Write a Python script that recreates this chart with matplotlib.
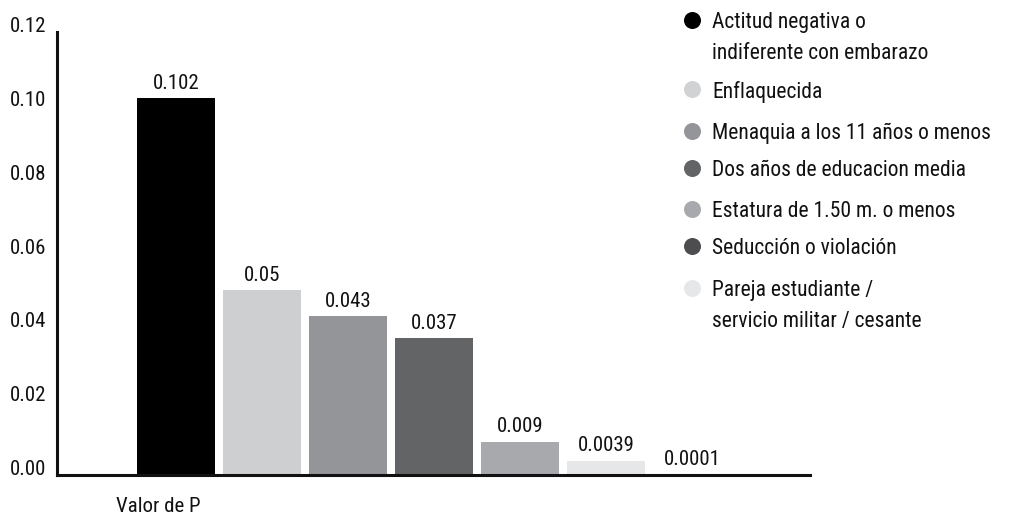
import matplotlib
matplotlib.use("Agg")
import matplotlib.pyplot as plt
from matplotlib import font_manager as fm

installed = {f.name for f in fm.fontManager.ttflist}
preferred = ["Roboto Condensed", "Archivo Narrow", "PT Sans Narrow", "IBM Plex Sans Condensed",
             "Liberation Sans Narrow", "Open Sans Condensed", "Roboto"]
main_font = next((f for f in preferred if f in installed), "DejaVu Sans")
plt.rcParams['font.family'] = [main_font, 'DejaVu Sans']

category = "Valor de P"
values = [0.102, 0.05, 0.043, 0.037, 0.009, 0.0039, 0.0001]
value_labels = ["0.102", "0.05", "0.043", "0.037", "0.009", "0.0039", "0.0001"]
bar_colors = ["#000000", "#cecfd1", "#939598", "#636466", "#a7a9ac", "#e6e7e8", "#4d4d4f"]
legend_labels = ["Actitud negativa o\nindiferente con embarazo", "Enflaquecida",
                 "Menaquia a los 11 años o menos", "Dos años de educacion media",
                 "Estatura de 1.50 m. o menos", "Seducción o violación",
                 "Pareja estudiante /\nservicio militar / cesante"]
legend_colors = ["#000000", "#d1d2d4", "#939598", "#636466", "#a7a9ac", "#4d4d4f", "#e6e7e8"]
yticks = [0.00, 0.02, 0.04, 0.06, 0.08, 0.10, 0.12]

W, H = 1010, 517
fig = plt.figure(figsize=(W / 100, H / 100), dpi=100)
ax = fig.add_axes([57 / W, (H - 475) / H, (810 - 57) / W, (475 - 32) / H])

x = list(range(len(values)))
bars = ax.bar(x, values, width=78 / 86, color=bar_colors, zorder=2)
for b, lab in zip(bars, value_labels):
    ax.annotate(lab, (b.get_x() + b.get_width() / 2, b.get_height()),
                xytext=(0, 4), textcoords="offset points", ha="center", va="bottom",
                fontsize=15, color="#111111")

ax.set_xlim(-1.384, 7.372)
ax.set_ylim(0, 0.12)
ax.set_yticks(yticks)
ax.set_yticklabels([f"{t:.2f}" for t in yticks])
for t in ax.get_yticklabels():
    t.set_verticalalignment("baseline")
ax.tick_params(axis="y", length=0, pad=8, labelsize=15, labelcolor="#111111")
ax.set_xticks([])
for s in ["top", "right"]:
    ax.spines[s].set_visible(False)
ax.spines["left"].set_linewidth(2.2)
ax.spines["bottom"].set_linewidth(2.2)
ax.spines["left"].set_color("#111111")
ax.spines["bottom"].set_color("#111111")

fig.text(158 / W, 1 - 507 / H, category, ha="center", va="center", fontsize=15, color="#111111")

# legend drawn in a pixel-coordinate overlay
lax = fig.add_axes([0, 0, 1, 1])
lax.set_xlim(0, W)
lax.set_ylim(H, 0)
lax.axis("off")
row_y = [20, 89, 131, 168, 209, 246, 288]
for yy, lab, c in zip(row_y, legend_labels, legend_colors):
    lax.scatter([692], [yy], s=150, color=c, zorder=3, linewidths=0)
    lax.text(712, yy - 8, lab, ha="left", va="top", fontsize=15.5, color="#111111",
             linespacing=1.62)

fig.savefig("out.png", dpi=100)
